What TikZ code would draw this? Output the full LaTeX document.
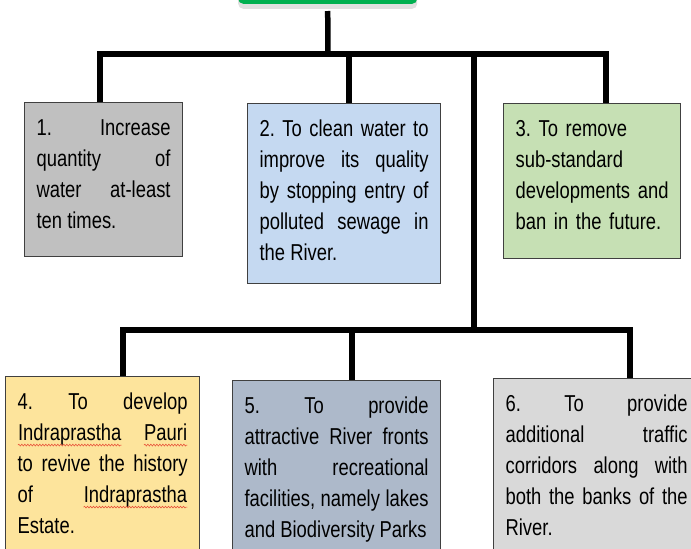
\documentclass[tikz,border=0pt]{standalone}
\usepackage{fontspec}
\setmainfont[FakeStretch=0.80]{Liberation Sans}
\usetikzlibrary{shadows, decorations.pathmorphing}
\definecolor{rootgreen}{HTML}{00B050}
\definecolor{boxline}{HTML}{404040}
\definecolor{aimgray}{HTML}{C0C0C0}
\definecolor{aimblue}{HTML}{C5D9F1}
\definecolor{aimgreen}{HTML}{C6E0B4}
\definecolor{aimgold}{HTML}{FDE49C}
\definecolor{aimslate}{HTML}{ADB9CA}
\definecolor{aimsilver}{HTML}{D9D9D9}
\definecolor{spellred}{HTML}{E8533A}
\newcommand{\spellmark}[1]{\tikz[baseline=(w.base), x=1pt, y=1pt]{%
  \node[inner sep=0pt, anchor=base] (w) {#1};
  \draw[spellred, line width=0.6pt, decorate, decoration={snake, amplitude=0.9pt, segment length=3pt}]
    ([yshift=-4.5pt]w.base west) -- ([yshift=-4.5pt]w.base east);}}
\frenchspacing
\hbadness=10000

\begin{document}
\begin{tikzpicture}[x=1pt, y=-1pt,
  aim/.style={draw=boxline, line width=1.2pt, anchor=north west, inner xsep=12pt, inner ysep=15pt,
    text height=18pt, align=justify, font=\fontsize{23}{31}\selectfont},
  link/.style={line width=5.5pt, black},
]
  \useasboundingbox (0,0) rectangle (691,549);
  \clip (0,0) rectangle (691,549);

  \node[fill=rootgreen, rounded corners=5pt, minimum width=179pt, minimum height=40pt, anchor=south west,
    drop shadow={shadow xshift=0pt, shadow yshift=-5pt, fill=black, opacity=0.12}] (root) at (238,4) {};

  % first row of aims
  \node[aim, fill=aimgray, text width=134pt, text depth=106pt] (b1) at (24,102)
    {1. Increase\linebreak quantity of\linebreak water at-least\linebreak ten times.};
  \node[aim, fill=aimblue, text width=169pt, text depth=132pt] (b2) at (247,103)
    {2. To clean water to\linebreak improve its quality\linebreak by stopping entry of\linebreak polluted sewage in\linebreak the River.};
  \node[aim, fill=aimgreen, text width=153pt, text depth=107pt, align=left] (b3) at (503,103)
    {3. To remove\\ sub-standard\\ developments and\\ ban in the future.};

  % second row of aims
  \node[aim, fill=aimgold, text width=170pt, text depth=176pt] (b4) at (5,376)
    {4. To develop\linebreak \spellmark{Indraprastha} \spellmark{Pauri}\linebreak to revive the history\linebreak of \spellmark{Indraprastha}\linebreak Estate.};
  \node[aim, fill=aimslate, text width=184pt, text depth=170pt] (b5) at (232,380)
    {5. To provide\linebreak attractive River fronts\linebreak with recreational\linebreak facilities, namely lakes\linebreak and Biodiversity Parks};
  \node[aim, fill=aimsilver, text width=182pt, text depth=170pt] (b6) at (493,378)
    {6. To provide\linebreak additional traffic\linebreak corridors along with\linebreak both the banks of the\linebreak River.};

  \coordinate (top) at (328,54);
  \coordinate (t1) at (100,54);
  \coordinate (t2) at (349,54);
  \coordinate (t3) at (606,54);
  \coordinate (spine) at (474,54);
  \coordinate (low) at (474,330);
  \coordinate (l4) at (123,330);
  \coordinate (l5) at (352,330);
  \coordinate (l6) at (630,330);

  \draw[link] ([yshift=-7pt]root.south) -- (top);
  \draw[link] (t1 |- b1.north) -- (t1) -- (t3) -- (t3 |- b3.north);
  \draw[link] (t2) -- (t2 |- b2.north);
  \draw[link] (spine) -- (low);
  \draw[link] (l4 |- b4.north) -- (l4) -- (l6) -- (l6 |- b6.north);
  \draw[link] (l5) -- (l5 |- b5.north);

\end{tikzpicture}
\end{document}
